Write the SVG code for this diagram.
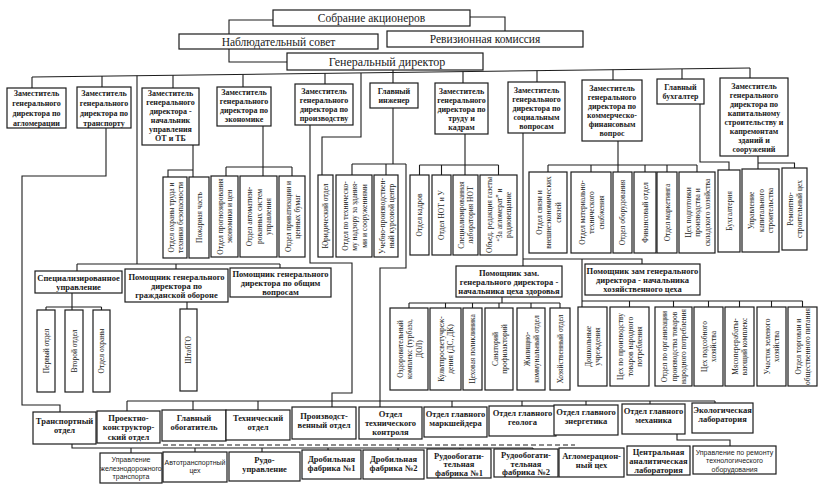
<svg xmlns="http://www.w3.org/2000/svg" width="837" height="494" viewBox="0 0 837 494">
<style>
.b{fill:#fff;stroke:#1c1c1c;stroke-width:1.2}
.c{fill:none;stroke:#1c1c1c;stroke-width:1.1}
.d{fill:none;stroke:#1c1c1c;stroke-width:1.1;stroke-dasharray:5 3}
text{font-family:"Liberation Serif","Times New Roman",serif;fill:#1a1a1a;text-anchor:middle;dominant-baseline:central}
.h{font-size:11.5px}
.t{font-size:8px;font-weight:bold}
.t2{font-size:8.5px;font-weight:bold}
.v{font-size:7.5px}
.s{font-family:"Liberation Sans",Arial,sans-serif;font-size:7px}
</style>
<rect width="837" height="494" fill="#fff"/>
<g id="connectors">
<path class="c" d="M273,20 H229 V62 H287"/>
<path class="c" d="M470,17 H505 V31"/>
<path class="c" d="M32,77 L750,68"/>
<path class="c" d="M32,77 V88 M102,76.1 V87 M137,75.7 V264 M173,75.2 V88 M243,74.4 V87 M325,73.3 V84 M361,72.9 V137 H322 V175 M393,70 V83 M463,71.6 V83 M537,70.7 V82 M613,69.7 V80 M682,68.9 V79 M750,68 V78"/>
<path class="c" d="M106,128 V176 H22 V405 H60 V412"/>
<path class="c" d="M193,145 V177 M193,170 H168 V177"/>
<path class="c" d="M263,126 V176 M226,167 H292 M226,167 V176 M292,167 V176"/>
<path class="c" d="M310,125 V263 H352 V393 H332 V407"/>
<path class="c" d="M393,108 V164 M352,164 H406 M352,164 V175 M386,164 V175 M406,164 V268 H380 V407"/>
<path class="c" d="M465,134 V175 M419.5,165 H498.5 M419.5,165 V175 M441.5,165 V175 M498.5,165 V175"/>
<path class="c" d="M523,133 V266 M523,259 H642 V264 M582,259 V307 M582,301 H802.5 M629.5,301 V307 M673.5,301 V307 M708.5,301 V307 M739.5,301 V307 M771.5,301 V307 M802.5,301 V307"/>
<path class="c" d="M502,297 V303 M409,303 H560 M409,303 V308 M445.5,303 V308 M472.5,303 V308 M499,303 V308 M531,303 V308 M560,303 V308"/>
<path class="c" d="M618,141 V172 M548,165 H697 M548,165 V172 M591,165 V172 M645,165 V172 M667,165 V172 M697,165 V172"/>
<path class="c" d="M700,104 V162 H729 V170"/>
<path class="c" d="M758,156 V169 M758,163 H794.5 V168"/>
<path class="c" d="M77,264 H280 M77,264 V271 M176,264 V269 M280,264 V268"/>
<path class="c" d="M72,293 V310 M46,307 H101.5 M46,307 V310 M101.5,307 V310"/>
<path class="c" d="M187,302 V309"/>
<path class="c" d="M127,401 H715 M127,401 V411 M193,401 V410 M258,401 V410 M452,401 V407 M522,401 V406 M586,401 V405 M650,401 V404 M715,401 V403"/>
<path class="c" d="M72,444 V448 H533 M131,448 V453 M195,448 V452 M262,448 V452 M328,448 V450 M398,448 V450 M460,448 V449 M533,448 V449"/>
<path class="d" d="M163,445 H575"/>
<path class="c" d="M677,434 V440 H730 V446"/>
</g>

<g id="n-sobranie"><rect class="b" x="273" y="10" width="197" height="16"/><text class="h" x="371.5" y="18">Собрание акционеров</text></g>
<g id="n-nabl"><rect class="b" x="179" y="34" width="199" height="15"/><text class="h" x="278.5" y="41.5">Наблюдательный совет</text></g>
<g id="n-reviz"><rect class="b" x="387" y="31" width="196" height="16"/><text class="h" x="485" y="39">Ревизионная комиссия</text></g>
<g id="n-gd"><rect class="b" x="287" y="53" width="196" height="17"/><text class="h" x="387" y="61.5" style="font-size:12px">Генеральный директор</text></g>

<g id="n-z-aglo"><rect class="b" x="7" y="88" width="59" height="40"/><text class="t"><tspan x="36.5" y="93">Заместитель</tspan><tspan x="36.5" y="103">генерального</tspan><tspan x="36.5" y="113">директора по</tspan><tspan x="36.5" y="123">агломерации</tspan></text></g>
<g id="n-z-trans"><rect class="b" x="77" y="87" width="54" height="41"/><text class="t"><tspan x="104" y="92.5">Заместитель</tspan><tspan x="104" y="102.5">генерального</tspan><tspan x="104" y="112.5">директора по</tspan><tspan x="104" y="122.5">транспорту</tspan></text></g>
<g id="n-z-ottb"><rect class="b" x="142" y="88" width="57" height="57"/><text class="t"><tspan x="170.5" y="93">Заместитель</tspan><tspan x="170.5" y="102">генерального</tspan><tspan x="170.5" y="111">директора -</tspan><tspan x="170.5" y="120">начальник</tspan><tspan x="170.5" y="129">управления</tspan><tspan x="170.5" y="138">ОТ и ТБ</tspan></text></g>
<g id="n-z-econ"><rect class="b" x="217" y="87" width="54" height="39"/><text class="t"><tspan x="244" y="92">Заместитель</tspan><tspan x="244" y="101">генерального</tspan><tspan x="244" y="110">директора по</tspan><tspan x="244" y="119">экономике</tspan></text></g>
<g id="n-z-proizv"><rect class="b" x="295" y="84" width="58" height="41"/><text class="t"><tspan x="324" y="91">Заместитель</tspan><tspan x="324" y="100">генерального</tspan><tspan x="324" y="109">директора по</tspan><tspan x="324" y="118">производству</tspan></text></g>
<g id="n-gl-ing"><rect class="b" x="370" y="83" width="48" height="25"/><text class="t"><tspan x="394" y="90.5">Главный</tspan><tspan x="394" y="99.5">инженер</tspan></text></g>
<g id="n-z-trud"><rect class="b" x="435" y="83" width="53" height="51"/><text class="t"><tspan x="461.5" y="90.5">Заместитель</tspan><tspan x="461.5" y="99.5">генерального</tspan><tspan x="461.5" y="108.5">директора по</tspan><tspan x="461.5" y="117.5">труду и</tspan><tspan x="461.5" y="126.5">кадрам</tspan></text></g>
<g id="n-z-soc"><rect class="b" x="508" y="82" width="57" height="51"/><text class="t"><tspan x="536.5" y="89.5">Заместитель</tspan><tspan x="536.5" y="98.5">генерального</tspan><tspan x="536.5" y="107.5">директора по</tspan><tspan x="536.5" y="116.5">социальным</tspan><tspan x="536.5" y="125.5">вопросам</tspan></text></g>
<g id="n-z-komm"><rect class="b" x="582" y="80" width="60" height="61"/><text class="t"><tspan x="612" y="88">Заместитель</tspan><tspan x="612" y="97">генерального</tspan><tspan x="612" y="106">директора по</tspan><tspan x="612" y="115">коммерческо-</tspan><tspan x="612" y="124">финансовым</tspan><tspan x="612" y="133">вопрос</tspan></text></g>
<g id="n-gl-buh"><rect class="b" x="657" y="79" width="47" height="25"/><text class="t"><tspan x="680.5" y="87">Главный</tspan><tspan x="680.5" y="96">бухгалтер</tspan></text></g>
<g id="n-z-kap"><rect class="b" x="720" y="78" width="68" height="78"/><text class="t"><tspan x="754" y="85.5">Заместитель</tspan><tspan x="754" y="94.5">генерального</tspan><tspan x="754" y="103.5">директора по</tspan><tspan x="754" y="112.5">капитальному</tspan><tspan x="754" y="121.5">строительству и</tspan><tspan x="754" y="130.5">капремонтам</tspan><tspan x="754" y="139.5">зданий и</tspan><tspan x="754" y="148.5">сооружений</tspan></text></g>

<g id="v-ohr"><rect class="b" x="163" y="177" width="24" height="81"/><text class="v" transform="translate(175,217.5) rotate(-90)"><tspan x="0" y="-4.5">Отдел охраны труда и</tspan><tspan x="0" y="4.5">техники безопасности</tspan></text></g>
<g id="v-pozh"><rect class="b" x="189" y="177" width="20" height="81"/><text class="v" transform="translate(199,217.5) rotate(-90)">Пожарная часть</text></g>
<g id="v-prog"><rect class="b" x="211" y="176" width="27" height="81"/><text class="v" transform="translate(224.5,216.5) rotate(-90)"><tspan x="0" y="-4.5">Отдел прогнозирования</tspan><tspan x="0" y="4.5">экономики и цен</tspan></text></g>
<g id="v-asu"><rect class="b" x="240" y="176" width="37" height="81"/><text class="v" transform="translate(258.5,216.5) rotate(-90)"><tspan x="0" y="-9.5">Отдел автоматизи-</tspan><tspan x="0" y="0">рованных систем</tspan><tspan x="0" y="9.5">управления</tspan></text></g>
<g id="v-priv"><rect class="b" x="279" y="176" width="26" height="81"/><text class="v" transform="translate(292,216.5) rotate(-90)"><tspan x="0" y="-4.5">Отдел приватизации и</tspan><tspan x="0" y="4.5">ценных бумаг</tspan></text></g>
<g id="v-yur"><rect class="b" x="318" y="175" width="15" height="82"/><text class="v" transform="translate(325.5,216) rotate(-90)">Юридический отдел</text></g>
<g id="v-tn"><rect class="b" x="336" y="175" width="36" height="82"/><text class="v" transform="translate(354,216) rotate(-90)"><tspan x="0" y="-9.5">Отдел по техническо-</tspan><tspan x="0" y="0">му надзору за здания-</tspan><tspan x="0" y="9.5">ми и сооружениями</tspan></text></g>
<g id="v-ucheb"><rect class="b" x="374" y="175" width="24" height="82"/><text class="v" transform="translate(386,216) rotate(-90)"><tspan x="0" y="-4.5">Учебно-производствен-</tspan><tspan x="0" y="4.5">ный курсовой центр</tspan></text></g>
<g id="v-kadr"><rect class="b" x="410" y="175" width="19" height="80"/><text class="v" transform="translate(419.5,215) rotate(-90)">Отдел кадров</text></g>
<g id="v-not"><rect class="b" x="432" y="175" width="19" height="80"/><text class="v" transform="translate(441.5,215) rotate(-90)">Отдел НОТ и У</text></g>
<g id="v-lab"><rect class="b" x="453" y="175" width="25" height="80"/><text class="v" transform="translate(465.5,215) rotate(-90)"><tspan x="0" y="-4.5">Специализированная</tspan><tspan x="0" y="4.5">лаборатория НОТ</tspan></text></g>
<g id="v-red"><rect class="b" x="480" y="175" width="37" height="80"/><text class="v" transform="translate(498.5,215) rotate(-90)"><tspan x="0" y="-9.5">Объед. редакция газеты</tspan><tspan x="0" y="0">“За агломерат” и</tspan><tspan x="0" y="9.5">радиовещание</tspan></text></g>
<g id="v-svyaz"><rect class="b" x="529" y="172" width="38" height="81"/><text class="v" transform="translate(548,212.5) rotate(-90)"><tspan x="0" y="-9.5">Отдел связи и</tspan><tspan x="0" y="0">внешнеэкономических</tspan><tspan x="0" y="9.5">связей</tspan></text></g>
<g id="v-mts"><rect class="b" x="571" y="172" width="40" height="81"/><text class="v" transform="translate(591,212.5) rotate(-90)"><tspan x="0" y="-9.5">Отдел материально-</tspan><tspan x="0" y="0">технического</tspan><tspan x="0" y="9.5">снабжения</tspan></text></g>
<g id="v-obor"><rect class="b" x="613" y="172" width="19" height="81"/><text class="v" transform="translate(622.5,212.5) rotate(-90)">Отдел оборудования</text></g>
<g id="v-fin"><rect class="b" x="634" y="172" width="22" height="81"/><text class="v" transform="translate(645,212.5) rotate(-90)">Финансовый отдел</text></g>
<g id="v-mark"><rect class="b" x="657" y="172" width="20" height="81"/><text class="v" transform="translate(667,212.5) rotate(-90)">Отдел маркетинга</text></g>
<g id="v-ceh"><rect class="b" x="679" y="172" width="36" height="81"/><text class="v" transform="translate(697,212.5) rotate(-90)"><tspan x="0" y="-9.5">Цех подготовки</tspan><tspan x="0" y="0">производства и</tspan><tspan x="0" y="9.5">складского хозяйства</tspan></text></g>
<g id="v-buh"><rect class="b" x="718" y="170" width="22" height="82"/><text class="v" transform="translate(729,211) rotate(-90)">Бухгалтерия</text></g>
<g id="v-uks"><rect class="b" x="742" y="169" width="37" height="83"/><text class="v" transform="translate(760.5,210.5) rotate(-90)"><tspan x="0" y="-9.5">Управление</tspan><tspan x="0" y="0">капитального</tspan><tspan x="0" y="9.5">строительства</tspan></text></g>
<g id="v-rsc"><rect class="b" x="782" y="168" width="25" height="82"/><text class="v" transform="translate(794.5,209) rotate(-90)"><tspan x="0" y="-4.5">Ремонтно-</tspan><tspan x="0" y="4.5">строительный цех</tspan></text></g>

<g id="n-spec"><rect class="b" x="35" y="271" width="87" height="22"/><text class="t2"><tspan x="78.5" y="277.5">Специализированное</tspan><tspan x="78.5" y="286.5">управление</tspan></text></g>
<g id="n-pom-go"><rect class="b" x="125" y="269" width="103" height="33"/><text class="t2"><tspan x="176.5" y="276.5">Помощник генерального</tspan><tspan x="176.5" y="285.5">директора по</tspan><tspan x="176.5" y="294.5">гражданской обороне</tspan></text></g>
<g id="n-pom-obsh"><rect class="b" x="230" y="268" width="101" height="29"/><text class="t2"><tspan x="280.5" y="273.5">Помощник генерального</tspan><tspan x="280.5" y="282.5">директора по общим</tspan><tspan x="280.5" y="291.5">вопросам</tspan></text></g>
<g id="n-pom-zdor"><rect class="b" x="456" y="266" width="106" height="31"/><text class="t2"><tspan x="509" y="272.5">Помощник зам.</tspan><tspan x="509" y="281.5">генерального директора -</tspan><tspan x="509" y="290.5">начальника цеха здоровья</tspan></text></g>
<g id="n-pom-hoz"><rect class="b" x="585" y="264" width="115" height="31"/><text class="t2"><tspan x="642.5" y="270.5">Помощник зам  генерального</tspan><tspan x="642.5" y="279.5">директора - начальника</tspan><tspan x="642.5" y="288.5">хозяйственного цеха</tspan></text></g>

<g id="v-perv"><rect class="b" x="37" y="310" width="18" height="82"/><text class="v" transform="translate(46,351) rotate(-90)">Первый отдел</text></g>
<g id="v-vtor"><rect class="b" x="65" y="310" width="18" height="82"/><text class="v" transform="translate(74,351) rotate(-90)">Второй отдел</text></g>
<g id="v-ohrana"><rect class="b" x="93" y="310" width="17" height="82"/><text class="v" transform="translate(101.5,351) rotate(-90)">Отдел охраны</text></g>
<g id="v-shtab"><rect class="b" x="180" y="309" width="17" height="82"/><text class="v" transform="translate(188.5,350) rotate(-90)">ШтабГО</text></g>

<g id="v-ozd"><rect class="b" x="390" y="308" width="38" height="82"/><text class="v" transform="translate(409,349) rotate(-90)"><tspan x="0" y="-9.5">Оздоровительный</tspan><tspan x="0" y="0">комплекс (турбаза,</tspan><tspan x="0" y="9.5">ДОЛ)</tspan></text></g>
<g id="v-kult"><rect class="b" x="430" y="308" width="31" height="82"/><text class="v" transform="translate(445.5,349) rotate(-90)"><tspan x="0" y="-4.5">Культпросветучреж-</tspan><tspan x="0" y="4.5">дения (ДС, ДК)</tspan></text></g>
<g id="v-polik"><rect class="b" x="463" y="308" width="19" height="82"/><text class="v" transform="translate(472.5,349) rotate(-90)">Цеховая поликлиника</text></g>
<g id="v-san"><rect class="b" x="485" y="308" width="28" height="82"/><text class="v" transform="translate(499,349) rotate(-90)"><tspan x="0" y="-4.5">Санаторий</tspan><tspan x="0" y="4.5">профилакторий</tspan></text></g>
<g id="v-zhko"><rect class="b" x="517" y="308" width="28" height="82"/><text class="v" transform="translate(531,349) rotate(-90)"><tspan x="0" y="-4.5">Жилищно-</tspan><tspan x="0" y="4.5">коммунальный отдел</tspan></text></g>
<g id="v-hoz"><rect class="b" x="550" y="308" width="20" height="82"/><text class="v" transform="translate(560,349) rotate(-90)">Хозяйственный отдел</text></g>

<g id="v-dosh"><rect class="b" x="578" y="307" width="29" height="79"/><text class="v" transform="translate(592.5,346.5) rotate(-90)"><tspan x="0" y="-4.5">Дошкольные</tspan><tspan x="0" y="4.5">учреждения</tspan></text></g>
<g id="v-tnp"><rect class="b" x="610" y="307" width="39" height="79"/><text class="v" transform="translate(629.5,346.5) rotate(-90)"><tspan x="0" y="-9.5">Цех по производству</tspan><tspan x="0" y="0">товаров народного</tspan><tspan x="0" y="9.5">потребления</tspan></text></g>
<g id="v-org"><rect class="b" x="655" y="307" width="37" height="79"/><text class="v" transform="translate(673.5,346.5) rotate(-90)"><tspan x="0" y="-9.5">Отдел по организации</tspan><tspan x="0" y="0">производства товаров</tspan><tspan x="0" y="9.5">народного потребления</tspan></text></g>
<g id="v-pods"><rect class="b" x="694" y="307" width="29" height="79"/><text class="v" transform="translate(708.5,346.5) rotate(-90)"><tspan x="0" y="-4.5">Цех подсобного</tspan><tspan x="0" y="4.5">хозяйства</tspan></text></g>
<g id="v-myas"><rect class="b" x="725" y="307" width="29" height="79"/><text class="v" transform="translate(739.5,346.5) rotate(-90)"><tspan x="0" y="-4.5">Мясоперерабаты-</tspan><tspan x="0" y="4.5">вающий комплекс</tspan></text></g>
<g id="v-zel"><rect class="b" x="757" y="307" width="29" height="79"/><text class="v" transform="translate(771.5,346.5) rotate(-90)"><tspan x="0" y="-4.5">Участок зеленого</tspan><tspan x="0" y="4.5">хозяйства</tspan></text></g>
<g id="v-torg"><rect class="b" x="788" y="307" width="29" height="79"/><text class="v" transform="translate(802.5,346.5) rotate(-90)"><tspan x="0" y="-4.5">Отдел торговли и</tspan><tspan x="0" y="4.5">общественного питания</tspan></text></g>

<g id="n-trans-otd"><rect class="b" x="33" y="412" width="63" height="32"/><text class="t2"><tspan x="64.5" y="421">Транспортный</tspan><tspan x="64.5" y="430">отдел</tspan></text></g>
<g id="n-proekt"><rect class="b" x="97" y="411" width="63" height="32"/><text class="t2"><tspan x="128.5" y="417.5">Проектно-</tspan><tspan x="128.5" y="427">конструктор-</tspan><tspan x="128.5" y="436.5">ский отдел</tspan></text></g>
<g id="n-obog"><rect class="b" x="162" y="410" width="64" height="31"/><text class="t2"><tspan x="194" y="418">Главный</tspan><tspan x="194" y="427">обогатитель</tspan></text></g>
<g id="n-tehn"><rect class="b" x="226" y="410" width="64" height="30"/><text class="t2"><tspan x="258" y="418">Технический</tspan><tspan x="258" y="427">отдел</tspan></text></g>
<g id="n-proizv-otd"><rect class="b" x="292" y="407" width="64" height="32"/><text class="t2"><tspan x="324" y="416">Производст-</tspan><tspan x="324" y="425">венный отдел</tspan></text></g>
<g id="n-otk"><rect class="b" x="359" y="407" width="63" height="32"/><text class="t2"><tspan x="390.5" y="414">Отдел</tspan><tspan x="390.5" y="423">технического</tspan><tspan x="390.5" y="432">контроля</tspan></text></g>
<g id="n-marksh"><rect class="b" x="424" y="407" width="63" height="30"/><text class="t2"><tspan x="455.5" y="414">Отдел главного</tspan><tspan x="455.5" y="423">маркшейдера</tspan></text></g>
<g id="n-geol"><rect class="b" x="489" y="406" width="67" height="30"/><text class="t2"><tspan x="522.5" y="413">Отдел главного</tspan><tspan x="522.5" y="422">геолога</tspan></text></g>
<g id="n-energ"><rect class="b" x="554" y="405" width="64" height="30"/><text class="t2"><tspan x="586" y="412">Отдел главного</tspan><tspan x="586" y="421">энергетика</tspan></text></g>
<g id="n-meh"><rect class="b" x="622" y="404" width="63" height="30"/><text class="t2"><tspan x="653.5" y="411">Отдел главного</tspan><tspan x="653.5" y="420">механика</tspan></text></g>
<g id="n-ekol"><rect class="b" x="692" y="403" width="61" height="30"/><text class="t2"><tspan x="722.5" y="410">Экологическая</tspan><tspan x="722.5" y="419">лаборатория</tspan></text></g>

<g id="n-uzht"><rect class="b" x="100" y="453" width="62" height="30"/><text class="s"><tspan x="131" y="459">Управление</tspan><tspan x="131" y="467.5">железнодорожного</tspan><tspan x="131" y="476">транспорта</tspan></text></g>
<g id="n-avto"><rect class="b" x="163" y="452" width="64" height="30"/><text class="s"><tspan x="195" y="461.5">Автотранспортный</tspan><tspan x="195" y="470">цех</tspan></text></g>
<g id="n-rudo"><rect class="b" x="229" y="452" width="71" height="29"/><text class="t2"><tspan x="264.5" y="460">Рудо-</tspan><tspan x="264.5" y="469">управление</tspan></text></g>
<g id="n-drob1"><rect class="b" x="302" y="450" width="59" height="29"/><text class="t2"><tspan x="331.5" y="459">Дробильная</tspan><tspan x="331.5" y="468">фабрика №1</tspan></text></g>
<g id="n-drob2"><rect class="b" x="363" y="450" width="61" height="29"/><text class="t2"><tspan x="393.5" y="459">Дробильная</tspan><tspan x="393.5" y="468">фабрика №2</tspan></text></g>
<g id="n-rob1"><rect class="b" x="427" y="449" width="64" height="29"/><text class="t2"><tspan x="459" y="455.5">Рудообогати-</tspan><tspan x="459" y="464">тельная</tspan><tspan x="459" y="472.5">фабрика №1</tspan></text></g>
<g id="n-rob2"><rect class="b" x="494" y="449" width="64" height="28"/><text class="t2"><tspan x="526" y="455">Рудообогати-</tspan><tspan x="526" y="463.5">тельная</tspan><tspan x="526" y="472">фабрика №2</tspan></text></g>
<g id="n-aglo"><rect class="b" x="559" y="448" width="65" height="29"/><text class="t2"><tspan x="591.5" y="456">Агломерацион-</tspan><tspan x="591.5" y="465">ный цех</tspan></text></g>
<g id="n-cal"><rect class="b" x="627" y="446" width="63" height="29"/><text class="t2"><tspan x="658.5" y="451.5">Центральная</tspan><tspan x="658.5" y="460.5">аналитическая</tspan><tspan x="658.5" y="469.5">лаборатория</tspan></text></g>
<g id="n-remont"><rect class="b" x="693" y="446" width="83" height="28"/><text class="s"><tspan x="734.5" y="451.5">Управление по ремонту</tspan><tspan x="734.5" y="460">технологического</tspan><tspan x="734.5" y="468.5">оборудования</tspan></text></g>
</svg>
